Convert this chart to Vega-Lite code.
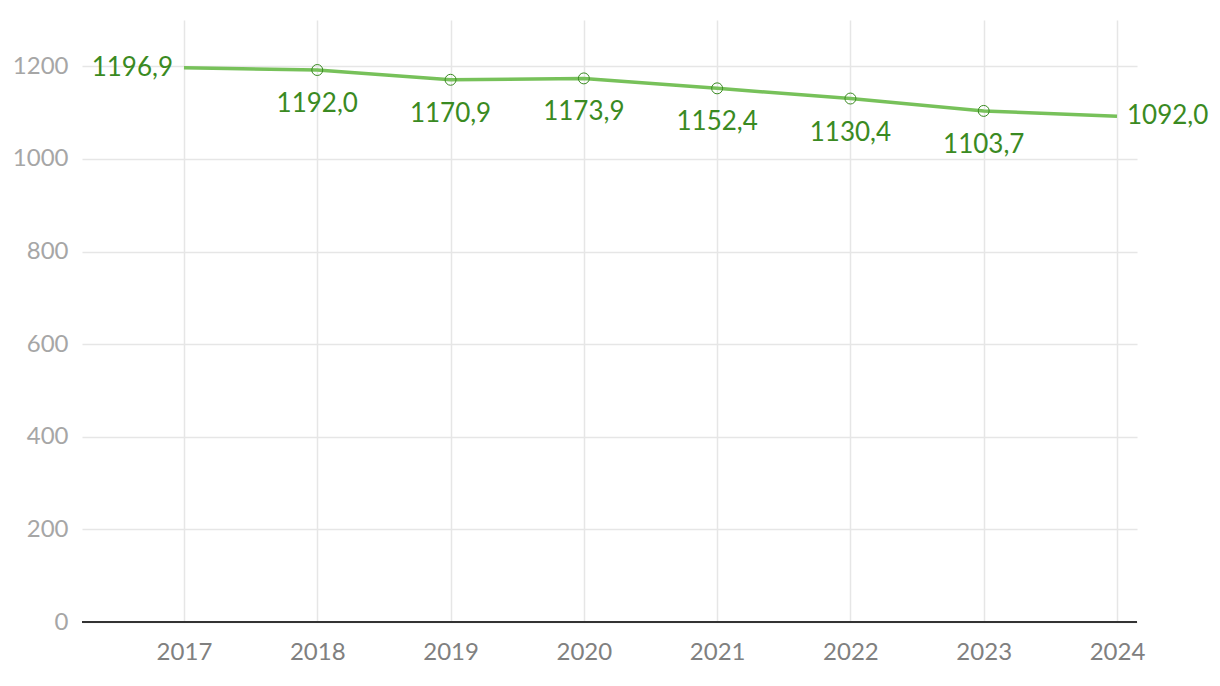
{
  "$schema": "https://vega.github.io/schema/vega-lite/v6.json",
  "width": 1055,
  "height": 602,
  "autosize": {"type": "none"},
  "padding": {"left": 82, "top": 20, "right": 83, "bottom": 64},
  "background": "white",
  "config": {
    "view": {"stroke": null},
    "font": "Lato",
    "axis": {"labelFont": "Lato", "gridColor": "#e6e6e6", "gridWidth": 1.5, "domain": false, "ticks": false, "title": null}
  },
  "data": {
    "values": [
      {"year": 2017, "value": 1196.9, "label": "1196,9"},
      {"year": 2018, "value": 1192.0, "label": "1192,0"},
      {"year": 2019, "value": 1170.9, "label": "1170,9"},
      {"year": 2020, "value": 1173.9, "label": "1173,9"},
      {"year": 2021, "value": 1152.4, "label": "1152,4"},
      {"year": 2022, "value": 1130.4, "label": "1130,4"},
      {"year": 2023, "value": 1103.7, "label": "1103,7"},
      {"year": 2024, "value": 1092.0, "label": "1092,0"}
    ]
  },
  "encoding": {
    "x": {
      "field": "year", "type": "quantitative",
      "scale": {"domain": [2016.235, 2024.15], "nice": false, "zero": false},
      "axis": {"values": [2017, 2018, 2019, 2020, 2021, 2022, 2023, 2024], "format": "d", "labelFontSize": 24, "labelColor": "#808080", "labelPadding": 18, "labelFlush": false}
    },
    "y": {
      "field": "value", "type": "quantitative",
      "scale": {"domain": [0, 1300], "nice": false},
      "axis": {"values": [0, 200, 400, 600, 800, 1000, 1200], "format": "d", "labelFontSize": 24, "labelColor": "#a6a6a6", "labelPadding": 14}
    }
  },
  "layer": [
    {
      "mark": {"type": "rule", "color": "#333333", "strokeWidth": 2},
      "encoding": {"y": {"datum": 0}, "x": null}
    },
    {
      "mark": {"type": "line", "color": "#77c15a", "strokeWidth": 3.5}
    },
    {
      "transform": [{"filter": "datum.year > 2017 && datum.year < 2024"}],
      "mark": {"type": "point", "filled": false, "stroke": "#3a8a22", "strokeWidth": 1, "size": 120, "opacity": 1}
    },
    {
      "transform": [{"filter": "datum.year > 2017 && datum.year < 2024"}],
      "mark": {"type": "text", "color": "#3a8a22", "fontSize": 26, "align": "center", "baseline": "middle", "dy": 34},
      "encoding": {"text": {"field": "label"}}
    },
    {
      "transform": [{"filter": "datum.year == 2017"}],
      "mark": {"type": "text", "color": "#3a8a22", "fontSize": 26, "align": "right", "baseline": "middle", "dx": -11},
      "encoding": {"text": {"field": "label"}}
    },
    {
      "transform": [{"filter": "datum.year == 2024"}],
      "mark": {"type": "text", "color": "#3a8a22", "fontSize": 26, "align": "left", "baseline": "middle", "dx": 10},
      "encoding": {"text": {"field": "label"}}
    }
  ]
}
